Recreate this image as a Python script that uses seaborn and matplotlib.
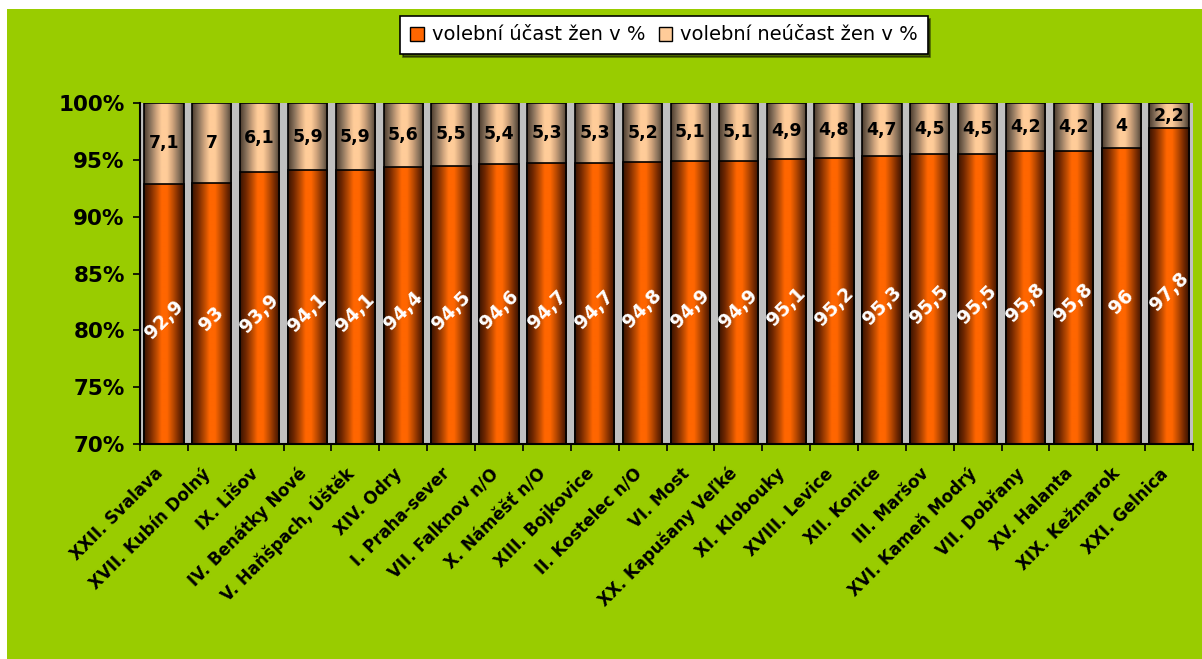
import numpy as np
import pandas as pd
import matplotlib
matplotlib.use('Agg')
import matplotlib.pyplot as plt
import seaborn as sns
from matplotlib.colors import LinearSegmentedColormap
from matplotlib.patches import Patch, Rectangle
from matplotlib.transforms import ScaledTranslation

# data
okrsky = ['XXII. Svalava', 'XVII. Kubín Dolný', 'IX. Lišov', 'IV. Benátky Nové',
          'V. Haňšpach, Úštěk', 'XIV. Odry', 'I. Praha-sever', 'VII. Falknov n/O',
          'X. Náměšť n/O', 'XIII. Bojkovice', 'II. Kostelec n/O', 'VI. Most',
          'XX. Kapušany Veľké', 'XI. Klobouky', 'XVIII. Levice', 'XII. Konice',
          'III. Maršov', 'XVI. Kameň Modrý', 'VII. Dobřany', 'XV. Halanta',
          'XIX. Kežmarok', 'XXI. Gelnica']
ucast = [92.9, 93, 93.9, 94.1, 94.1, 94.4, 94.5, 94.6, 94.7, 94.7, 94.8,
         94.9, 94.9, 95.1, 95.2, 95.3, 95.5, 95.5, 95.8, 95.8, 96, 97.8]
neucast = [7.1, 7, 6.1, 5.9, 5.9, 5.6, 5.5, 5.4, 5.3, 5.3, 5.2,
           5.1, 5.1, 4.9, 4.8, 4.7, 4.5, 4.5, 4.2, 4.2, 4, 2.2]

df = pd.DataFrame({'okrsek': okrsky, 'ucast': ucast, 'neucast': neucast})
df['celkem'] = df['ucast'] + df['neucast']
n = len(df)

sns.set_theme(style='white')
plt.rcParams['font.family'] = ['DejaVu Sans']

fig = plt.figure(figsize=(12.02, 6.59), dpi=100)
fig.patch.set_facecolor('white')
# green chart area
fig.add_artist(Rectangle((7 / 1202, 0), 1, 1 - 9 / 659, transform=fig.transFigure,
                         facecolor='#99CC00', edgecolor='none', zorder=-10))

ax = fig.add_axes([140 / 1202, 215 / 659, 1053 / 1202, 341 / 659])
ax.set_facecolor('#C0C0C0')

YMIN, YMAX = 70, 100

# stacked bars: full height (peach) then participation (orange) on top
sns.barplot(data=df, x='okrsek', y='celkem', color='#FFCC99', saturation=1,
            width=0.82, edgecolor='black', linewidth=1.2, ax=ax)
top_bars = list(ax.patches)
sns.barplot(data=df, x='okrsek', y='ucast', color='#FF6600', saturation=1,
            width=0.82, edgecolor='black', linewidth=1.2, ax=ax)
low_bars = list(ax.patches)[len(top_bars):]

stops = [0, 0.15, 0.32, 0.44, 0.58, 0.72, 0.88, 1]
cm_orange = LinearSegmentedColormap.from_list('o', list(zip(stops, [
    '#3a1400', '#722800', '#c04c00', '#ff6600', '#ff6600', '#c04c00', '#722800', '#3a1400'])))
cm_peach = LinearSegmentedColormap.from_list('p', list(zip(stops, [
    '#4c3c2e', '#86705a', '#d4a880', '#ffcc99', '#ffcc99', '#d0a47c', '#86705a', '#4c3c2e'])))


def shade(bars, cmap, z):
    grad = np.linspace(0, 1, 200).reshape(1, -1)
    for b in bars:
        x0 = b.get_x()
        y0 = max(b.get_y(), YMIN)
        y1 = min(b.get_y() + b.get_height(), YMAX)
        im = ax.imshow(grad, extent=[x0, x0 + b.get_width(), y0, y1],
                       aspect='auto', cmap=cmap, interpolation='bilinear', zorder=z)
        im.set_clip_path(b)
        b.set_facecolor('none')
        b.set_zorder(z + 0.05)


shade(top_bars, cm_peach, 2.1)
shade(low_bars, cm_orange, 2.3)


def fmt(v):
    return f'{v:g}'.replace('.', ',')


for i, r in df.iterrows():
    ax.text(i, (YMIN + r.ucast) / 2 - 0.5, fmt(r.ucast), rotation=45, ha='center',
            va='center', color='white', fontsize=13.5, fontweight='bold', zorder=5)
    ax.text(i, r.ucast + r.neucast / 2, fmt(r.neucast), ha='center', va='center',
            color='black', fontsize=12.5, fontweight='bold', zorder=5)

ax.set_xlim(-0.5, n - 0.5)
ax.set_ylim(YMIN, YMAX)
ax.set_yticks(range(70, 101, 5))
ax.set_yticklabels([f'{t}%' for t in range(70, 101, 5)], fontsize=15.5, fontweight='bold')
ax.set_xticks(np.arange(n))
ax.set_xticklabels(okrsky, rotation=45, ha='right', va='baseline', rotation_mode='anchor',
                   fontsize=12, fontweight='bold')
shift = ScaledTranslation(-0.10, 0, fig.dpi_scale_trans)
for lab in ax.get_xticklabels():
    lab.set_transform(lab.get_transform() + shift)
ax.set_xticks(np.arange(-0.5, n), minor=True)
ax.tick_params(axis='y', left=True, direction='out', length=5, width=1.2,
               color='black', pad=6, labelcolor='black')
ax.tick_params(axis='x', which='major', bottom=True, length=0, pad=22, labelcolor='black')
ax.tick_params(axis='x', which='minor', bottom=True, direction='out', length=5,
               width=1.2, color='black')
ax.set_xlabel('')
ax.set_ylabel('')
for s in ['top', 'right']:
    ax.spines[s].set_visible(False)
for s in ['left', 'bottom']:
    ax.spines[s].set_color('black')
    ax.spines[s].set_linewidth(1.5)

handles = [Patch(facecolor='#FF6600', edgecolor='black', label='volební účast žen v %'),
           Patch(facecolor='#FFCC99', edgecolor='black', label='volební neúčast žen v %')]
leg = fig.legend(handles=handles, loc='center', bbox_to_anchor=(664 / 1202, 1 - 35 / 659),
                 ncol=2, frameon=True, fancybox=False, edgecolor='black', framealpha=1,
                 fontsize=14, handlelength=0.7, handleheight=0.7, handletextpad=0.4,
                 columnspacing=0.7, borderpad=0.5, labelcolor='black',
                 shadow={'color': 'black'})
leg.get_frame().set_linewidth(1.2)

fig.savefig('out.png', dpi=100)
